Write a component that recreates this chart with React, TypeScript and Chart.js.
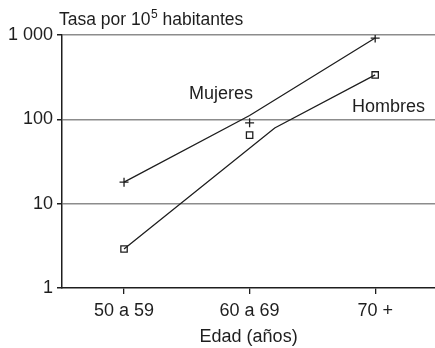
import React, { useEffect, useRef } from "react";
import { Chart, registerables } from "chart.js";

Chart.register(...registerables);

const categories = ["50 a 59", "60 a 69", "70 +"];
const yTickValues = [1, 10, 100, 1000];
const yTickLabels = ["1", "10", "100", "1 000"];
const mujeresRates = [18, 91, 920];
const hombresRates = [2.9, 65, 336];
const mujeresTrendX = [0, 1, 2];
const mujeresTrend = [18, 111, 920];
const hombresTrendX = [0, 1.2, 2];
const hombresTrend = [2.9, 79, 336];

const FONT = '"Liberation Sans", Arial, Helvetica, sans-serif';
const INK = "#1e1e1e";
const FS = 18;

const annotations = {
  id: "annotations",
  afterDraw(chart: any) {
    const ctx = chart.ctx;
    const area = chart.chartArea;
    ctx.save();
    ctx.fillStyle = INK;
    ctx.textBaseline = "alphabetic";
    ctx.textAlign = "left";
    // title
    ctx.font = `17.5px ${FONT}`;
    const t1 = "Tasa por 10";
    let x = area.left - 3;
    ctx.fillText(t1, x, 25);
    x += ctx.measureText(t1).width;
    ctx.font = `12px ${FONT}`;
    ctx.fillText("5", x + 0.5, 18);
    x += ctx.measureText("5").width + 0.5;
    ctx.font = `17.5px ${FONT}`;
    ctx.fillText(" habitantes", x, 25);
    // series labels
    ctx.font = `${FS}px ${FONT}`;
    ctx.fillText("Mujeres", 189, 99);
    ctx.fillText("Hombres", 352, 112);
    ctx.restore();
  },
};

export default function App() {
  const ref = useRef<HTMLCanvasElement | null>(null);
  useEffect(() => {
    if (!ref.current) return;
    const chart = new Chart(ref.current, {
      type: "line",
      data: {
        datasets: [
          {
            label: "Mujeres tendencia",
            data: mujeresTrend.map((v, i) => ({ x: mujeresTrendX[i], y: v })),
            borderColor: INK,
            borderWidth: 1.3,
            pointRadius: 0,
            fill: false,
          },
          {
            label: "Hombres tendencia",
            data: hombresTrend.map((v, i) => ({ x: hombresTrendX[i], y: v })),
            borderColor: INK,
            borderWidth: 1.3,
            pointRadius: 0,
            fill: false,
          },
          {
            label: "Mujeres",
            data: mujeresRates.map((v, i) => ({ x: i, y: v })),
            showLine: false,
            pointStyle: "cross",
            pointRadius: 4.5,
            pointBorderWidth: 1.3,
            pointBorderColor: INK,
          },
          {
            label: "Hombres",
            data: hombresRates.map((v, i) => ({ x: i, y: v })),
            showLine: false,
            pointStyle: "rect",
            pointRadius: 4.5,
            pointBorderWidth: 1.3,
            pointBorderColor: INK,
            pointBackgroundColor: "#ffffff",
          },
        ],
      },
      options: {
        animation: false,
        responsive: false,
        layout: { padding: { top: 35, right: 0, bottom: 0, left: 0 } },
        plugins: {
          legend: { display: false },
          tooltip: { enabled: false },
          title: { display: false },
        },
        scales: {
          x: {
            type: "linear",
            min: -0.494,
            max: 2.478,
            afterBuildTicks: (scale: any) => {
              scale.ticks = categories.map((_, i) => ({ value: i }));
            },
            afterFit: (scale: any) => {
              scale.height = 60;
            },
            ticks: {
              callback: (v: any) => categories[Math.round(Number(v))] ?? "",
              color: INK,
              font: { family: FONT, size: FS },
              padding: 6,
              maxRotation: 0,
            },
            grid: {
              drawOnChartArea: false,
              drawTicks: true,
              tickLength: 6,
              color: INK,
              lineWidth: 1.3,
            },
            border: { color: INK, width: 1.5 },
            title: {
              display: true,
              text: "Edad (años)",
              color: INK,
              font: { family: FONT, size: FS },
              padding: { top: 0, bottom: 0 },
            },
          },
          y: {
            type: "logarithmic",
            min: 1,
            max: 1000,
            afterBuildTicks: (scale: any) => {
              scale.ticks = yTickValues.map((v) => ({ value: v }));
            },
            afterFit: (scale: any) => {
              scale.width = 62;
            },
            ticks: {
              callback: (v: any) => {
                const i = yTickValues.indexOf(Number(v));
                return i >= 0 ? yTickLabels[i] : "";
              },
              color: INK,
              font: { family: FONT, size: FS },
              padding: 4,
            },
            grid: {
              color: (c: any) => (c.tick && c.tick.value === 1 ? "rgba(0,0,0,0)" : "#8c8c8c"),
              tickColor: INK,
              lineWidth: 1.5,
              tickLength: 5,
            },
            border: { color: INK, width: 1.5 },
          },
        },
      },
      plugins: [annotations],
    } as any);
    return () => chart.destroy();
  }, []);
  return (
    <div style={{ position: "absolute", left: 0, top: 0, width: 435, height: 348, overflow: "hidden", background: "#fff" }}>
      <canvas ref={ref} width={441} height={348} style={{ display: "block" }} />
    </div>
  );
}
